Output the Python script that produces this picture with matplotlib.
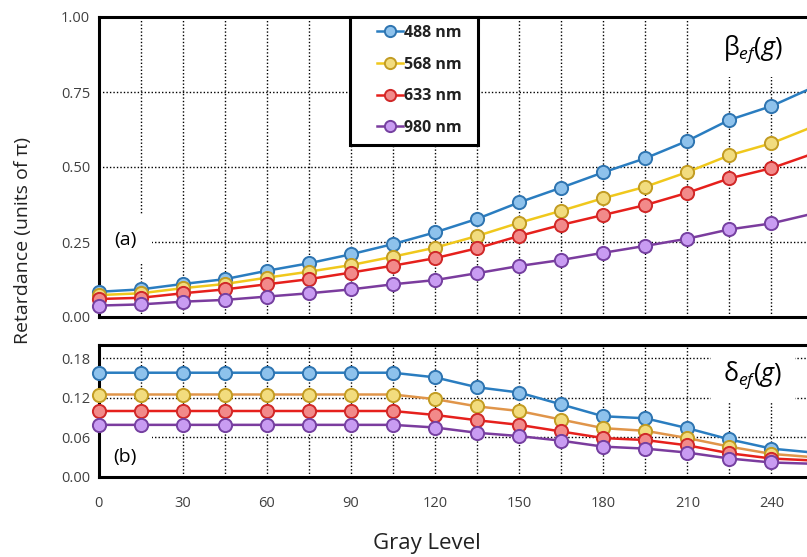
import numpy as np
import matplotlib
matplotlib.use("Agg")
import matplotlib.pyplot as plt
from matplotlib.patches import Rectangle

plt.rcParams['font.family'] = ['Open Sans', 'DejaVu Sans']
plt.rcParams['mathtext.fontset'] = 'custom'
plt.rcParams['mathtext.it'] = 'Open Sans:italic'
plt.rcParams['mathtext.rm'] = 'Open Sans'

# niveles de gris medidos
gray = [0, 15, 30, 45, 60, 75, 90, 105, 120, 135, 150, 165, 180, 195, 210, 225, 240, 255]
labels = ['488 nm', '568 nm', '633 nm', '980 nm']

# (a) retardo beta_ef(g)
beta_488 = [0.084, 0.092, 0.110, 0.126, 0.154, 0.179, 0.209, 0.243, 0.282, 0.327,
            0.382, 0.431, 0.482, 0.529, 0.587, 0.657, 0.703, 0.766]
beta_568 = [0.073, 0.079, 0.096, 0.110, 0.131, 0.151, 0.173, 0.201, 0.231, 0.270,
            0.314, 0.354, 0.396, 0.434, 0.483, 0.539, 0.579, 0.635]
beta_633 = [0.060, 0.064, 0.079, 0.092, 0.109, 0.126, 0.148, 0.171, 0.196, 0.229,
            0.270, 0.307, 0.340, 0.373, 0.414, 0.462, 0.496, 0.545]
beta_980 = [0.038, 0.042, 0.051, 0.057, 0.068, 0.079, 0.092, 0.109, 0.123, 0.146,
            0.170, 0.190, 0.214, 0.237, 0.261, 0.292, 0.312, 0.345]

# (b) retardo delta_ef(g)
delta_488 = [0.158, 0.158, 0.158, 0.158, 0.158, 0.158, 0.158, 0.158, 0.151, 0.136,
             0.128, 0.110, 0.092, 0.089, 0.074, 0.057, 0.043, 0.037]
delta_568 = [0.125, 0.125, 0.125, 0.125, 0.125, 0.125, 0.125, 0.125, 0.118, 0.107,
             0.100, 0.087, 0.074, 0.070, 0.059, 0.046, 0.035, 0.030]
delta_633 = [0.100, 0.100, 0.100, 0.100, 0.100, 0.100, 0.100, 0.100, 0.094, 0.086,
             0.079, 0.069, 0.059, 0.056, 0.048, 0.036, 0.028, 0.025]
delta_980 = [0.079, 0.079, 0.079, 0.079, 0.079, 0.079, 0.079, 0.079, 0.075, 0.067,
             0.062, 0.055, 0.046, 0.043, 0.037, 0.028, 0.022, 0.020]

estilos = [
    # linea, relleno, borde, linea en (b)
    ('#2a7dc0', '#8ec2ec', '#2e74b0', '#2a7dc0'),
    ('#f0c81c', '#f2dc7e', '#c29c22', '#e0954a'),
    ('#e6201c', '#f28a8a', '#d02828', '#e6201c'),
    ('#7b3c9e', '#c99cf2', '#7540a0', '#7b3c9e'),
]

fig = plt.figure(figsize=(8.07, 5.57), dpi=100)
W, H = 807.0, 557.0
x0, x1 = 98.5, 813.5
ax1 = fig.add_axes([x0 / W, 1 - 317 / H, (x1 - x0) / W, 300 / H])
ax2 = fig.add_axes([x0 / W, 1 - 477 / H, (x1 - x0) / W, 132 / H])

grid_kw = dict(color='black', linestyle=(0, (1, 1.5)), linewidth=1.0)

for ax, series, ylim, yt in [
        (ax1, [beta_488, beta_568, beta_633, beta_980], (0, 1.0), [0, 0.25, 0.5, 0.75, 1.0]),
        (ax2, [delta_488, delta_568, delta_633, delta_980], (0, 0.2), [0, 0.06, 0.12, 0.18])]:
    for i, (y, lab) in enumerate(zip(series, labels)):
        lc, fc, ec, lc2 = estilos[i]
        ax.plot(gray, y, '-o', color=lc if ax is ax1 else lc2, lw=1.8,
                markersize=9.5, markerfacecolor=fc, markeredgecolor=ec,
                markeredgewidth=1.4, label=lab, clip_on=False, zorder=3)
    ax.set_xlim(0, 255)
    ax.set_ylim(*ylim)
    ax.set_yticks(yt)
    ax.set_yticklabels(['%.2f' % v for v in yt])
    ax.set_xticks(range(0, 256, 30))
    ax.set_xticks(range(15, 256, 30), minor=True)
    ax.grid(True, which='both', axis='x', **grid_kw)
    ax.grid(True, which='major', axis='y', **grid_kw)
    ax.set_axisbelow(True)
    ax.tick_params(which='both', length=0, labelsize=10.5, colors='#404040', pad=6)
    for s in ax.spines.values():
        s.set_linewidth(2.2)
        s.set_color('black')

ax1.set_xticklabels([])
ax1.yaxis.get_gridlines()[0].set_visible(False)
ax1.yaxis.get_gridlines()[-1].set_visible(False)
ax2.yaxis.get_gridlines()[0].set_visible(False)
ax2.tick_params(axis='x', pad=14)

# etiquetas de panel con fondo blanco (tapan la rejilla)
box = dict(facecolor='white', edgecolor='none', boxstyle='square,pad=0.8')
ax1.text(0.037, 0.257, '(a)', transform=ax1.transAxes, fontsize=14,
         ha='center', va='center', bbox=box, zorder=1)
ax2.text(0.037, 0.15, '(b)', transform=ax2.transAxes, fontsize=14,
         ha='center', va='center', bbox=box, zorder=1)

lbl_box = dict(facecolor='white', edgecolor='none', boxstyle='square,pad=0.5')
ax1.text(0.915, 0.895, r'β$_{\mathit{ef}}$($\mathit{g}$)', transform=ax1.transAxes,
         fontsize=18, ha='center', va='center', bbox=lbl_box, zorder=1)
ax2.text(0.915, 0.775, r'δ$_{\mathit{ef}}$($\mathit{g}$)', transform=ax2.transAxes,
         fontsize=18, ha='center', va='center', bbox=lbl_box, zorder=1)

# marco de la leyenda
fx = lambda px: (px - x0) / (x1 - x0)
fy = lambda py: (317 - py) / 300.0
ax1.add_patch(Rectangle((fx(350), fy(145)), fx(478) - fx(350), fy(17) - fy(145),
                        transform=ax1.transAxes, facecolor='white', edgecolor='black',
                        linewidth=2.2, zorder=4, clip_on=False))
leg = ax1.legend(loc='upper left', bbox_to_anchor=(fx(377), fy(25)),
                 frameon=False, prop={'family': 'Open Sans', 'weight': 'bold', 'size': 11.5},
                 handlelength=1.6, handletextpad=0.1, labelspacing=0.98,
                 borderpad=0, borderaxespad=0, markerscale=0.85)
leg.set_zorder(5)
for t in leg.get_texts():
    t.set_color('#222222')

fig.text(0.028, 1 - 241 / H, 'Retardance (units of π)', rotation=90,
         ha='center', va='center', fontsize=14, color='#222222')
fig.text(427 / W, 1 - 543 / H, 'Gray Level', ha='center', va='center',
         fontsize=16, color='#222222')

fig.savefig('out.png', dpi=100)
